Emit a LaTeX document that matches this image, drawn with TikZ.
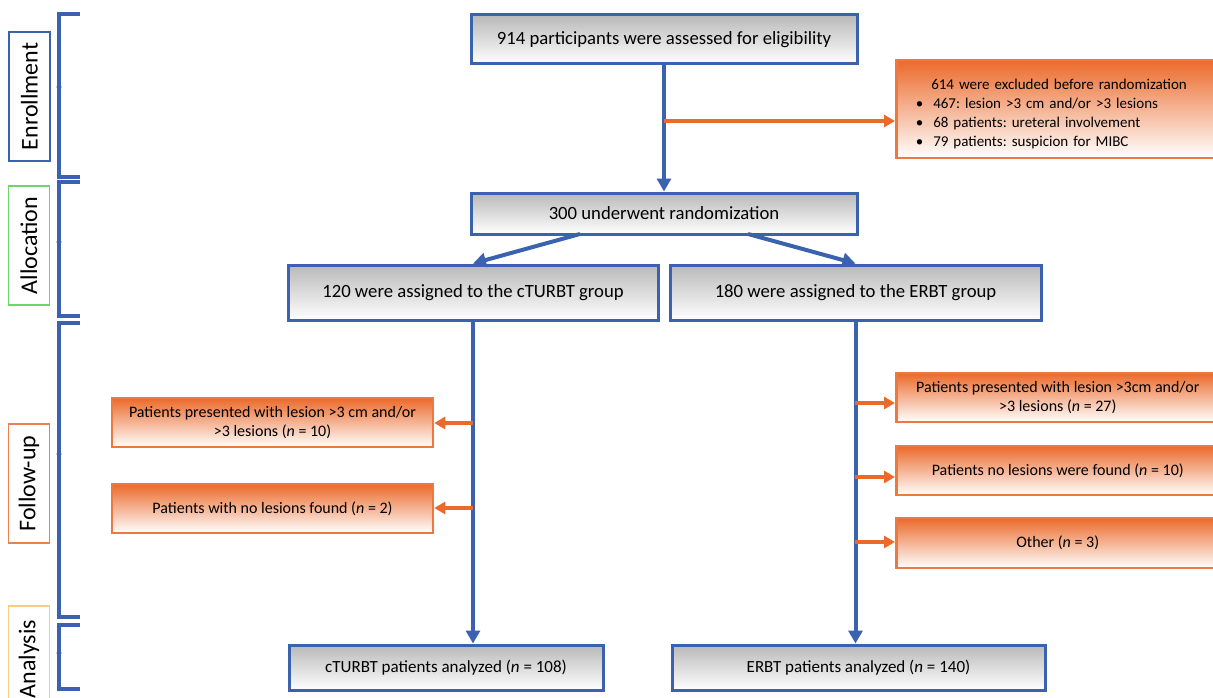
\documentclass[tikz,border=0pt]{standalone}
\usepackage{fontspec}
\setmainfont{Carlito}
\usetikzlibrary{arrows.meta}
\frenchspacing

\definecolor{blu}{HTML}{3A62AE}
\definecolor{arancio}{HTML}{EB6A2B}
\definecolor{verde}{HTML}{6CD66C}
\definecolor{giallo}{HTML}{F8CB85}

\begin{document}
\begin{tikzpicture}[
    x=1pt, y=-1pt,
    box_grigio/.style={draw=blu, line width=3pt, top color=gray!55, bottom color=white, font=\fontsize{18.7}{22}\selectfont, inner sep=0pt},
    box_arancio/.style={draw=arancio!90!white, line width=2.5pt, top color=arancio, middle color=arancio!75!white, bottom color=white, font=\fontsize{16}{19}\selectfont, align=center, inner sep=0pt},
    freccia_blu/.style={blu, line width=4pt, -{Triangle[length=13pt, width=14pt]}},
    freccia_arancio/.style={arancio, line width=3.5pt, -{Triangle[length=11pt, width=12pt]}},
    parentesi/.style={blu, line width=3.5pt},
    fase/.style={line width=1.5pt, rotate=90, font=\fontsize{24}{28}\selectfont, minimum height=41pt, inner sep=0pt}
]

    % 0. Cornice
    \useasboundingbox (0,0) rectangle (1213,698);
    \clip (0,0) rectangle (1213,698);

    % 1. Fasi a sinistra
    \node[fase, draw=blu, minimum width=129pt] (F_enr) at (29.5,96.5) {Enrollment};
    \node[fase, draw=verde, minimum width=119pt] (F_all) at (29,245.5) {Allocation};
    \node[fase, draw=arancio!85!white, minimum width=119pt] (F_fol) at (29,483.5) {Follow-up};
    \node[fase, draw=giallo, minimum width=106pt] (F_ana) at (29,659) {Analysis};

    % Parentesi delle fasi
    \draw[parentesi] (80,14) -- (59,14) -- (59,177) -- (80,177);
    \draw[parentesi] (80,182) -- (59,182) -- (59,316) -- (80,316);
    \draw[parentesi] (80,323) -- (59,323) -- (59,617) -- (80,617);
    \draw[parentesi] (80,625) -- (59,625) -- (59,689) -- (80,689);
    \fill[blu] (59,87) circle (2.5pt);
    \fill[blu] (59,242) circle (2.5pt);
    \fill[blu] (59,454) circle (2.5pt);
    \fill[blu] (59,653) circle (2.5pt);

    % 2. Riquadri principali
    \node[box_grigio, minimum width=386pt, minimum height=49pt] (N914) at (664,39.5) {914 participants were assessed for eligibility};
    \node[box_grigio, minimum width=386pt, minimum height=41pt] (Rand) at (664,213.5) {300 underwent randomization};
    \node[box_grigio, minimum width=370pt, minimum height=55pt] (cTur) at (473,292.5) {120 were assigned to the cTURBT group};
    \node[box_grigio, minimum width=371pt, minimum height=55pt] (Erbt) at (855.5,292.5) {180 were assigned to the ERBT group};
    \node[box_grigio, font=\fontsize{17}{20}\selectfont, minimum width=314pt, minimum height=45pt] (An_cTur) at (446,667.5) {cTURBT patients analyzed (\textit{n} = 108)};
    \node[box_grigio, font=\fontsize{17}{20}\selectfont, minimum width=373pt, minimum height=45pt] (An_Erbt) at (858.5,667.5) {ERBT patients analyzed (\textit{n} = 140)};

    % 3. Esclusi
    \node[box_arancio, font=\fontsize{15}{19}\selectfont, anchor=west, align=left, text width=284pt, minimum width=323pt, minimum height=98pt] (Escl) at (895,109)
        {\rule{0pt}{21pt}\hspace*{15.5pt}614 were excluded before randomization\\
         \makebox[17.5pt][l]{\textbullet}467: lesion >3 cm and/or >3 lesions\\
         \makebox[17.5pt][l]{\textbullet}68 patients: ureteral involvement\\
         \makebox[17.5pt][l]{\textbullet}79 patients: suspicion for MIBC};

    % 4. Follow-up cTURBT
    \node[box_arancio, minimum width=321pt, minimum height=49pt] (FU_s1) at (272.5,422.5) {Patients presented with lesion >3 cm and/or\\ >3 lesions (\textit{n} = 10)};
    \node[box_arancio, minimum width=321pt, minimum height=49pt] (FU_s2) at (272.5,508.5) {Patients with no lesions found (\textit{n} = 2)};

    % Follow-up ERBT
    \node[box_arancio, anchor=west, minimum width=323pt, minimum height=49pt] (FU_d1) at (895,397.5) {Patients presented with lesion >3cm and/or\\ >3 lesions (\textit{n} = 27)};
    \node[box_arancio, anchor=west, minimum width=323pt, minimum height=49pt] (FU_d2) at (895,470.5) {Patients no lesions were found (\textit{n} = 10)};
    \node[box_arancio, anchor=west, minimum width=323pt, minimum height=50pt] (FU_d3) at (895,543) {Other (\textit{n} = 3)};

    % 5. Frecce
    \coordinate (C_escl) at (664,121);
    \coordinate (R_sx) at (580,234);
    \coordinate (R_dx) at (748,234);
    \coordinate (C_s1) at (473,423);
    \coordinate (C_s2) at (473,508);
    \coordinate (C_d1) at (855,403);
    \coordinate (C_d2) at (855,477);
    \coordinate (C_d3) at (855,542);

    \draw[freccia_blu] (N914) -- (Rand);
    \draw[freccia_arancio] (C_escl) -- (C_escl -| Escl.west);
    \draw[freccia_blu] (R_sx) -- (cTur.north);
    \draw[freccia_blu] (R_dx) -- (Erbt.north);
    \draw[freccia_blu] (cTur.south) -- (cTur.south |- An_cTur.north);
    \draw[freccia_blu] (Erbt.south) -- (Erbt.south |- An_Erbt.north);

    \draw[freccia_arancio] (C_s1) -- (C_s1 -| FU_s1.east);
    \draw[freccia_arancio] (C_s2) -- (C_s2 -| FU_s2.east);
    \draw[freccia_arancio] (C_d1) -- (C_d1 -| FU_d1.west);
    \draw[freccia_arancio] (C_d2) -- (C_d2 -| FU_d2.west);
    \draw[freccia_arancio] (C_d3) -- (C_d3 -| FU_d3.west);

\end{tikzpicture}
\end{document}
